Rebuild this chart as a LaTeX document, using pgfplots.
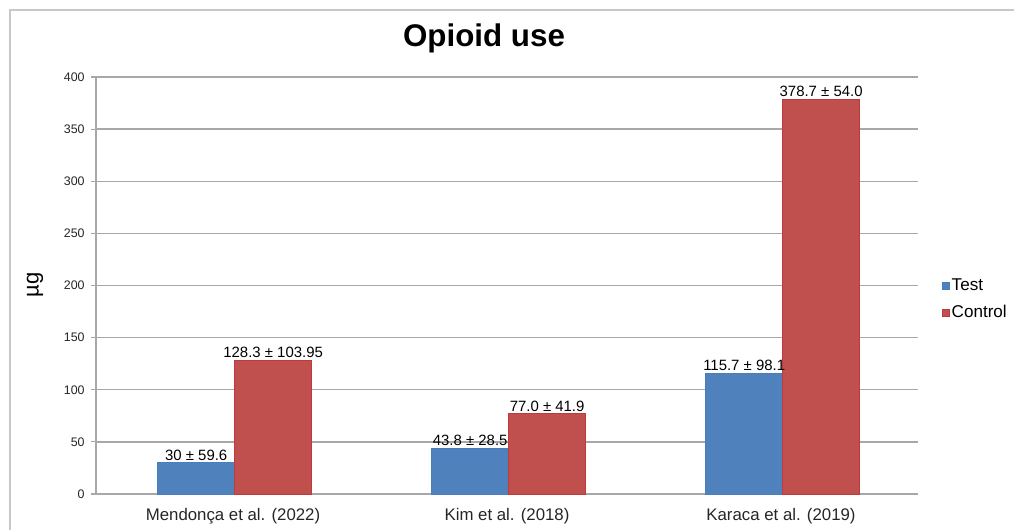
\documentclass[border=0pt]{standalone}
\usepackage{fontspec}
\setmainfont{Liberation Sans}
\usepackage{pgfplots}
\usepackage{pgfplotstable}
\pgfplotsset{compat=1.18}
\definecolor{tblue}{HTML}{4F81BD}
\definecolor{tblueE}{HTML}{4A7EBB}
\definecolor{cred}{HTML}{C0504D}
\definecolor{credE}{HTML}{BE3A3C}
\definecolor{gridg}{HTML}{A8A8A8}
\definecolor{frameg}{HTML}{C8C8C8}

\pgfplotstableread[col sep=comma]{
x,y,label
0,30,30 ± 59.6
1,43.8,43.8 ± 28.5
2,115.7,115.7 ± 98.1
}\testdata
\pgfplotstableread[col sep=comma]{
x,y,label
0,128.3,128.3 ± 103.95
1,77.0,77.0 ± 41.9
2,378.7,378.7 ± 54.0
}\controldata

\begin{document}
\begin{tikzpicture}
\path[use as bounding box] (-72pt,-26.25pt) rectangle (688.5pt,370.5pt);
\draw[frameg, line width=0.9pt] (-64.5pt,-30pt) -- (-64.5pt,363pt) -- (692pt,363pt);
\begin{axis}[
  at={(0pt,0pt)}, anchor=south west,
  scale only axis,
  width=616.5pt, height=312.75pt,
  ybar=0pt, bar width=57.75pt,
  xmin=-0.5, xmax=2.5,
  ymin=0, ymax=400,
  ytick={0,50,...,400},
  xtick=data,
  xticklabels={Mendonça et al. (2022),Kim et al. (2018),Karaca et al. (2019)},
  xtick style={draw=none},
  ytick pos=left,
  tick align=outside,
  major tick length=3.5pt,
  ytick style={gridg, line width=0.8pt},
  axis lines*=left,
  axis line style={-, gridg, line width=1pt},
  ymajorgrids,
  grid style={gridg, line width=1pt},
  /pgf/number format/assume math mode=true,
  yticklabel style={font=\fontsize{9.3}{10}\selectfont, text=black!85, xshift=-1.5pt},
  xticklabel style={font=\fontsize{12.6}{14}\selectfont, text=black!85, yshift=-4pt},
  point meta=explicit symbolic,
  nodes near coords,
  nodes near coords style={font=\fontsize{11.2}{12}\selectfont, text=black, inner sep=1.5pt},
  legend image code/.code={\path[#1] (0pt,-2.6pt) rectangle (5.2pt,2.6pt);},
  legend style={at={(1.024,0.528)}, anchor=north west, draw=none, fill=none,
    font=\fontsize{12.8}{14}\selectfont, row sep=6.75pt,
    nodes={inner sep=1.5pt}},
  legend cell align=left,
]
\addplot[fill=tblue, draw=tblueE, line width=0.6pt, bar shift=-27.6pt] table[x=x, y=y, meta=label] {\testdata};
\addplot[fill=cred, draw=credE, line width=0.6pt, bar shift=30.1pt] table[x=x, y=y, meta=label] {\controldata};
\legend{Test,Control}
\end{axis}
\node[font=\bfseries\fontsize{23.5}{26}\selectfont] at (291pt,342pt) {Opioid use};
\node[rotate=90, font=\fontsize{16.5}{18}\selectfont] at (-45.75pt,156.75pt) {µg};
\end{tikzpicture}
\end{document}
